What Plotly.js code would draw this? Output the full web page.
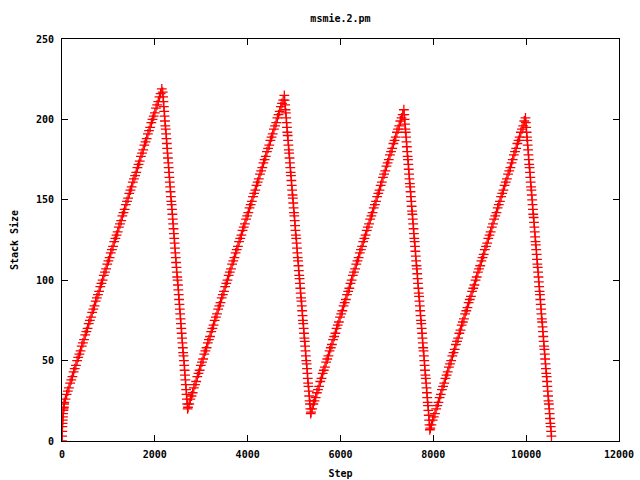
<!DOCTYPE html>
<html>
<head>
<meta charset="utf-8">
<script src="https://cdn.plot.ly/plotly-3.0.1.min.js"></script>
<style>html,body{margin:0;padding:0;background:#fff}#chart{width:640px;height:480px}</style>
</head>
<body>
<div id="chart"></div>
<script>
// ---- data ----
const chartTitle = "msmie.2.pm";
const xLabel = "Step";
const yLabel = "Stack Size";
const xTicks = [0, 2000, 4000, 6000, 8000, 10000, 12000];
const yTicks = [0, 50, 100, 150, 200, 250];

// initial steep start
const startSteps = [0, 3, 6, 9, 12, 16, 20, 25, 30, 35, 40, 45];
const startSizes = [0, 3, 6, 9, 11, 13, 15, 17, 19, 20, 21, 23];

// rising / falling phases: first step, step spacing, stack sizes
const rise1Start = 50, rise1Dx = 25;
const rise1Sizes = [24,26,29,31,33,36,38,40,43,45,47,50,52,54,56,59,61,63,66,68,70,73,75,77,80,82,84,87,89,91,93,96,98,100,103,105,107,110,112,114,117,119,121,124,126,128,130,133,135,137,140,142,144,147,149,151,154,156,158,161,163,165,167,170,172,174,177,179,181,184,186,188,191,193,195,198,200,202,204,207,209,211,214,216,219];
const fall1Start = 2170, fall1Dx = 8;
const fall1Sizes = [217,214,211,208,205,202,199,196,194,191,188,185,182,179,176,173,170,167,164,161,158,155,152,149,147,144,141,138,135,132,129,126,123,120,117,114,111,108,105,102,100,97,94,91,88,85,82,79,76,73,70,67,64,61,58,55,53,50,47,44,41,38,35,32,29,26,23,20];
const rise2Start = 2715, rise2Dx = 25;
const rise2Sizes = [21,23,26,28,30,33,35,37,40,42,44,47,49,51,54,56,58,61,63,65,68,70,72,75,77,79,82,84,86,89,91,93,96,98,100,103,105,107,110,112,114,117,119,121,124,126,128,131,133,135,138,140,142,145,147,149,152,154,156,159,161,163,166,168,170,173,175,177,180,182,184,187,189,191,194,196,198,201,203,205,208,210,212,215];
const fall2Start = 4798, fall2Dx = 8;
const fall2Sizes = [212,209,206,204,201,198,195,192,190,187,184,181,179,176,173,170,167,165,162,159,156,153,151,148,145,142,140,137,134,131,128,126,123,120,117,114,112,109,106,103,101,98,95,92,89,87,84,81,78,75,73,70,67,64,62,59,56,53,50,48,45,42,39,36,34,31,28,25,23,20,17];
const rise3Start = 5365, rise3Dx = 25;
const rise3Sizes = [18,20,23,25,27,30,32,34,37,39,42,44,46,49,51,53,56,58,60,63,65,67,70,72,74,77,79,81,84,86,88,91,93,95,98,100,103,105,107,110,112,114,117,119,121,124,126,128,131,133,135,138,140,142,145,147,149,152,154,156,159,161,164,166,168,171,173,175,178,180,182,185,187,189,192,194,196,199,201,203,206];
const fall3Start = 7373, fall3Dx = 8;
const fall3Sizes = [203,200,197,194,192,189,186,183,180,177,175,172,169,166,163,160,158,155,152,149,146,143,141,138,135,132,129,126,124,121,118,115,112,109,107,104,101,98,95,92,90,87,84,81,78,75,73,70,67,64,61,58,56,53,50,47,44,41,39,36,33,30,27,24,22,19,16,13,10,7];
const rise4Start = 7935, rise4Dx = 25;
const rise4Sizes = [8,10,13,15,17,20,22,24,27,29,32,34,36,39,41,43,46,48,50,53,55,57,60,62,64,67,69,72,74,76,79,81,83,86,88,90,93,95,97,100,102,105,107,109,112,114,116,119,121,123,126,128,130,133,135,138,140,142,145,147,149,152,154,156,159,161,163,166,168,170,173,175,178,180,182,185,187,189,192,194,196,199,201];
const fall4Start = 9993, fall4Dx = 8;
const fall4Sizes = [198,195,192,189,187,184,181,178,175,172,170,167,164,161,158,156,153,150,147,144,141,139,136,133,130,127,124,122,119,116,113,110,108,105,102,99,96,93,91,88,85,82,79,76,74,71,68,65,62,59,57,54,51,48,45,42,40,37,34,31,28,25,23,20,17,14,11,9,6,3];

// ---- drawing ----
const markerStyle = {symbol: "cross-thin", size: 7, color: "#ff0000", line: {color: "#ff0000", width: 1.3}};
function seg(x0, dx, y) {
  return {type: "scatter", mode: "markers", x0: x0, dx: dx, y: y, marker: markerStyle, showlegend: false, hoverinfo: "x+y"};
}
const traces = [
  {type: "scatter", mode: "markers", x: startSteps, y: startSizes, marker: markerStyle, showlegend: false},
  seg(rise1Start, rise1Dx, rise1Sizes), seg(fall1Start, fall1Dx, fall1Sizes),
  seg(rise2Start, rise2Dx, rise2Sizes), seg(fall2Start, fall2Dx, fall2Sizes),
  seg(rise3Start, rise3Dx, rise3Sizes), seg(fall3Start, fall3Dx, fall3Sizes),
  seg(rise4Start, rise4Dx, rise4Sizes), seg(fall4Start, fall4Dx, fall4Sizes)
];

const font = {family: "DejaVu Sans Mono, monospace", size: 10, color: "#000", weight: "bold"};
const axisCommon = {
  showline: true, linecolor: "#000", linewidth: 1, mirror: "ticks",
  ticks: "inside", ticklen: 6, tickwidth: 1, tickcolor: "#000",
  showgrid: false, zeroline: false, tickfont: font
};
const layout = {
  width: 640, height: 480,
  margin: {l: 62, r: 21, t: 39, b: 39},
  paper_bgcolor: "#fff", plot_bgcolor: "#fff",
  font: font,
  title: {text: chartTitle, font: font, x: 0.532, xanchor: "center", y: 1 - 18/480, yanchor: "middle"},
  xaxis: Object.assign({}, axisCommon, {
    range: [0, 12000], tickvals: xTicks, ticktext: xTicks.map(String),
    title: {text: xLabel, font: font, standoff: 10}, ticklabelstandoff: 4
  }),
  yaxis: Object.assign({}, axisCommon, {
    range: [0, 250], tickvals: yTicks, ticktext: yTicks.map(String),
    title: {text: yLabel, font: font, standoff: 15}, ticklabelstandoff: 5
  })
};
Plotly.newPlot("chart", traces, layout, {staticPlot: true, displayModeBar: false});
</script>
</body>
</html>
